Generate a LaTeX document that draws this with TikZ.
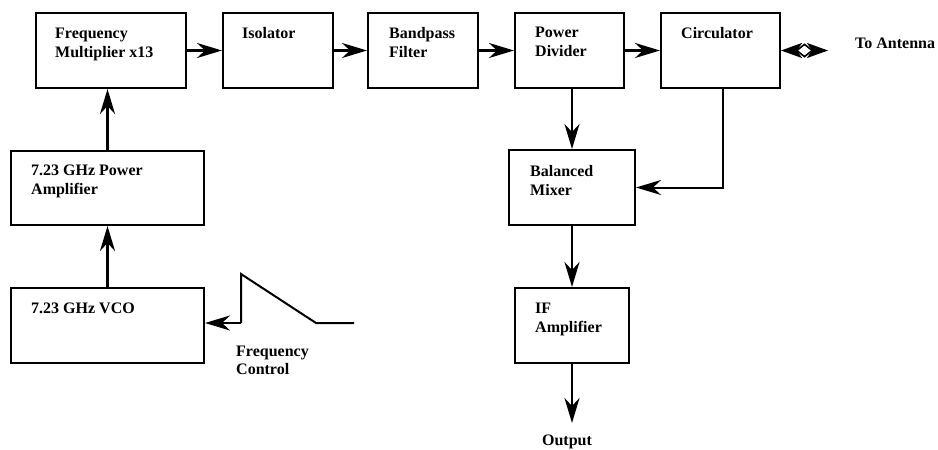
\documentclass[tikz,border=0pt]{standalone}
\usepackage{fontspec}
\setmainfont{Liberation Serif}
\usetikzlibrary{arrows.meta,shapes.geometric}

\tikzset{
  blk/.style={draw,line width=2pt,inner sep=0pt},
  lbl/.style={anchor=north west,inner sep=0pt,align=left,
              font=\fontsize{16}{19}\selectfont\bfseries},
  sig/.style={line width=2.6pt,-{Stealth[length=25pt,width=15pt,inset=8pt]}},
}

\begin{document}
\begin{tikzpicture}[x=1pt,y=-1pt]
  \useasboundingbox (0,0) rectangle (938,450);

% top row
  \node[blk,minimum width=150,minimum height=75] (mult) at (111,50.5) {};
  \node[blk,minimum width=110,minimum height=75] (iso)  at (278,50.5) {};
  \node[blk,minimum width=110,minimum height=75] (bpf)  at (423,50.5) {};
  \node[blk,minimum width=109,minimum height=75] (pdiv) at (569.5,50.5) {};
  \node[blk,minimum width=119,minimum height=75] (circ) at (720.5,50.5) {};

% left column
  \node[blk,minimum width=193,minimum height=74] (pamp) at (107.5,188) {};
  \node[blk,minimum width=193,minimum height=75] (vco)  at (107.5,325.5) {};

% receiver column
  \node[blk,minimum width=126,minimum height=75] (mix)  at (572,187.5) {};
  \node[blk,minimum width=114,minimum height=75] (ifa)  at (572,325.5) {};

% block labels
  \node[lbl] (mult-t) at ([shift={(20,15.5)}]mult.north west) {Frequency\\Multiplier x13};
  \node[lbl] (iso-t)  at ([shift={(20,15)}]iso.north west)  {Isolator};
  \node[lbl] (bpf-t)  at ([shift={(22,15)}]bpf.north west)  {Bandpass\\Filter};
  \node[lbl] (pdiv-t) at ([shift={(21,15)}]pdiv.north west) {Power\\Divider};
  \node[lbl] (circ-t) at ([shift={(21,15)}]circ.north west) {Circulator};
  \node[lbl] (pamp-t) at ([shift={(21,15)}]pamp.north west) {7.23 GHz Power\\Amplifier};
  \node[lbl] (vco-t)  at ([shift={(21,16)}]vco.north west)  {7.23 GHz VCO};
  \node[lbl] (mix-t)  at ([shift={(22,16)}]mix.north west)  {Balanced\\Mixer};
  \node[lbl] (ifa-t)  at ([shift={(21,16)}]ifa.north west)  {IF\\Amplifier};

% free labels
  \node[lbl,anchor=base west] (ant-t) at (855,48) {To Antenna};
  \node[lbl,font=\fontsize{16}{18}\selectfont\bfseries] (fc-t) at (236,346) {Frequency\\Control};
  \node[lbl,anchor=base] (out-t) at (567,445) {Output};

% transmit chain
  \draw[sig] (vco.north) -- (pamp.south);
  \draw[sig] (pamp.north) -- (pamp.north |- mult.south);
  \draw[sig] (mult.east) -- (iso.west);
  \draw[sig] (iso.east) -- (bpf.west);
  \draw[sig] (bpf.east) -- (pdiv.west);
  \draw[sig] (pdiv.east) -- (circ.west);

% antenna port
  \coordinate (ant) at (828,50.5);
  \draw[line width=2pt,{Stealth[length=21pt,width=15pt,inset=5pt]}-{Stealth[length=21pt,width=15pt,inset=5pt]}]
        (circ.east) -- (ant);
  \node[draw,diamond,fill=white,line width=1.6pt,inner sep=0pt,
        minimum width=16,minimum height=13] (dia) at (804.5,50.5) {};

% receive chain
  \draw[sig] (mix.north |- pdiv.south) -- (mix.north);
  \draw[line width=2pt,-{Stealth[length=25pt,width=15pt,inset=8pt]}]
        ([xshift=2.5]circ.south) |- (mix.east);
  \draw[sig] (mix.south) -- (ifa.north);
  \coordinate (outp) at (572,423);
  \draw[sig] (ifa.south) -- (outp);

% frequency control ramp
  \coordinate (w1) at (241,323);
  \coordinate (w2) at (241,274);
  \coordinate (w3) at (316,323);
  \coordinate (w4) at (354,323);
  \draw[line width=2pt] (w4) -- (w3) -- (w2) -- (w1);
  \draw[line width=2.4pt,-{Stealth[length=25pt,width=15pt,inset=8pt]}] (w1) -- (vco.east |- w1);
\end{tikzpicture}
\end{document}
